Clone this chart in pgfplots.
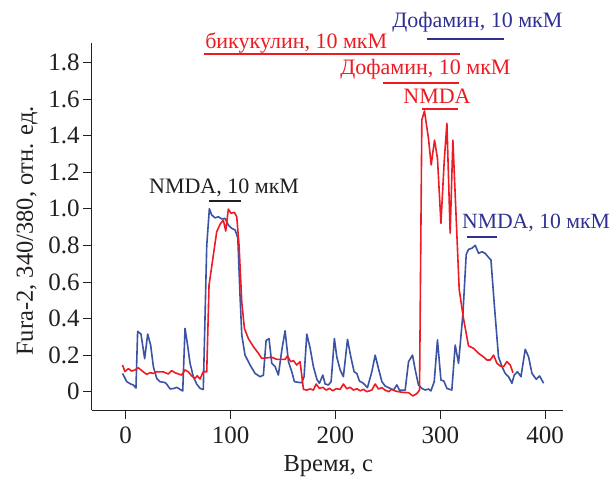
\documentclass[border=0pt]{standalone}
\usepackage{fontspec}
\setmainfont{Liberation Serif}
\usepackage{pgfplots}
\pgfplotsset{compat=1.18}
\definecolor{cblue}{RGB}{58,83,164}
\definecolor{ctblue}{RGB}{46,49,146}
\definecolor{cred}{RGB}{237,28,36}
\definecolor{caxis}{RGB}{35,31,32}
\begin{document}
\begin{tikzpicture}
\begin{axis}[
  at={(0,0)}, anchor=south west,
  scale only axis, width=471.3pt, height=366.7pt,
  xmin=-32.4, xmax=417, ymin=-0.1, ymax=1.904,
  axis lines=left,
  axis line style={-, line width=0.8pt, color=caxis},
  every tick/.style={line width=0.8pt, color=caxis},
  tick align=outside, major tick length=8.5pt,
  xtick={0,100,200,300,400}, xticklabels={0,100,200,300,400},
  ytick={0,0.2,0.4,0.6,0.8,1.0,1.2,1.4,1.6,1.8},
  yticklabels={0,0.2,0.4,0.6,0.8,1.0,1.2,1.4,1.6,1.8},
  tick label style={font=\fontsize{25}{29}\selectfont, color=caxis},
  xticklabel style={yshift=-5pt},
  xlabel={Время, с}, ylabel={Fura-2, 340/380, отн. ед.},
  label style={font=\fontsize{24.5}{28}\selectfont, color=caxis},
  xlabel style={at={(axis description cs:0.502,-0.168)}, anchor=base},
  ylabel style={at={(axis description cs:-0.125,0.488)}, anchor=base, rotate=0},
  clip=false,
]
\addplot[cblue, line width=1.6pt, line join=round] coordinates {
(-3,0.10) (1,0.055) (4.8,0.042) (7.3,0.037) (9.8,0.02) (11.4,0.33) (14.6,0.315) (18.1,0.18) (21,0.315) (23.8,0.255) (26.4,0.137) (29.6,0.073) (32.7,0.055) (37.5,0.05) (39.7,0.037) (42.3,0.015) (46.1,0.018) (48.7,0.024) (51.8,0.013) (54.4,0.004) (56.6,0.346) (58.8,0.264) (61.4,0.155) (64.5,0.082) (67.7,0.042) (70.9,0.018) (74,0.012) (77.3,0.80) (79.8,1.00) (82,0.966) (85.2,0.95) (88.4,0.956) (91.6,0.944) (94.8,0.947) (97.9,0.91) (101.1,0.893) (104.3,0.884) (106.9,0.84) (109,0.53) (110.7,0.31) (113.8,0.20) (118.6,0.146) (123.4,0.10) (128.1,0.082) (131.3,0.09) (133.9,0.28) (136.7,0.29) (139.3,0.155) (142.5,0.137) (145.6,0.091) (148.9,0.228) (152,0.333) (155.2,0.164) (158.4,0.109) (160.9,0.055) (164.7,0.051) (167.9,0.049) (170.1,0.082) (172.7,0.315) (175.9,0.237) (179,0.137) (182.3,0.068) (184.7,0.046) (188,0.091) (190.2,0.042) (193.3,0.037) (195.9,0.055) (199,0.29) (201.3,0.19) (204.5,0.119) (207.6,0.082) (211.5,0.286) (214.7,0.19) (217.8,0.109) (220.4,0.10) (222.9,0.058) (226.7,0.046) (230.5,0.022) (234.7,0.109) (237.9,0.20) (241,0.128) (244.3,0.055) (247.4,0.031) (252.2,0.018) (255.3,0.009) (258.6,0.037) (261,0.009) (266.5,0.009) (269.7,0.164) (273.5,0.20) (276,0.122) (279.2,0.037) (282.4,0.018) (285.6,0.009) (288.7,0.015) (291,0.004) (294.2,0.055) (297.3,0.283) (300.6,0.064) (303.4,0.058) (306.3,0.018) (311,0.009) (314.2,0.255) (317.4,0.155) (321.6,0.428) (324.7,0.75) (326.9,0.778) (330.2,0.784) (333.3,0.80) (336.5,0.756) (339.7,0.765) (342.8,0.756) (346,0.734) (348.3,0.72) (351.4,0.483) (355.5,0.19) (358.8,0.137) (361.9,0.10) (365.1,0.082) (368.3,0.046) (370.5,0.091) (373.7,0.109) (376.9,0.082) (381,0.232) (384.2,0.19) (387.4,0.10) (391.5,0.068) (394.7,0.086) (398.5,0.046)
};
\addplot[cred, line width=1.6pt, line join=round] coordinates {
(-3,0.146) (-0.7,0.11) (2.5,0.126) (5.7,0.113) (8.9,0.119) (12,0.131) (15.3,0.115) (20,0.095) (23.2,0.104) (26.3,0.10) (29.6,0.109) (35.9,0.108) (40.6,0.097) (43.9,0.115) (47,0.104) (50.2,0.097) (53.4,0.091) (56.6,0.119) (59.7,0.109) (63,0.086) (66.1,0.073) (68.3,0.087) (70.9,0.069) (74,0.109) (77.3,0.109) (79.5,0.583) (83.6,0.747) (86.8,0.874) (90,0.915) (93.1,0.938) (95.4,0.878) (97.9,0.998) (100.5,0.975) (103.6,0.98) (105.9,0.956) (108.1,0.80) (110.7,0.49) (113.2,0.346) (117,0.29) (121.8,0.246) (126.5,0.21) (129.8,0.182) (134.5,0.185) (139.3,0.188) (144.1,0.177) (148.9,0.177) (152,0.177) (154.2,0.195) (157.4,0.164) (159.9,0.17) (163.2,0.146) (166.3,0.164) (169.5,0.013) (172.7,0.009) (175.9,0.015) (179,0.009) (181.6,0.042) (184.7,0.018) (188,0.024) (191.1,0.009) (194.3,0.018) (197.5,0.005) (200.7,0.016) (204.5,0.013) (207.6,0.042) (210.9,0.016) (214,0.024) (217.2,0.009) (220.4,0.016) (223.6,0.005) (226.7,0.013) (230,0.0) (234.7,0.009) (237.9,0.042) (241,0.015) (244.3,0.022) (247.4,0.009) (250.6,0.0) (253.8,0.013) (257,0.004) (260.1,0.0) (264.9,-0.004) (269.7,-0.005) (273.9,-0.023) (277.7,-0.01) (280.2,0.009) (282.4,1.485) (284.9,1.534) (288.7,1.385) (291.3,1.239) (294.5,1.375) (297.3,1.275) (300.6,0.92) (303.7,1.257) (306.3,1.467) (309.4,0.866) (312,1.375) (318,0.56) (322.1,0.40) (326.9,0.25) (331.7,0.237) (336.5,0.21) (341.2,0.19) (344.5,0.173) (347.6,0.173) (350.8,0.20) (354,0.155) (357.2,0.14) (360.3,0.137) (363.5,0.164) (366.7,0.146) (369.3,0.104)
};
% annotations
\draw[ctblue, line width=1.8pt] (axis cs:287.2,1.927) -- (axis cs:361,1.927);
\node[ctblue, anchor=west, inner sep=0pt, font=\fontsize{22}{26}\selectfont] at (axis cs:254,2.02) {Дофамин, 10 мкМ};
\draw[cred, line width=1.8pt] (axis cs:74.7,1.844) -- (axis cs:319,1.844);
\node[cred, anchor=west, inner sep=0pt, font=\fontsize{22}{26}\selectfont] at (axis cs:75.7,1.905) {бикукулин, 10 мкМ};
\draw[cred, line width=1.8pt] (axis cs:245,1.685) -- (axis cs:317.4,1.685);
\node[cred, anchor=west, inner sep=0pt, font=\fontsize{22}{26}\selectfont] at (axis cs:204.5,1.763) {Дофамин, 10 мкМ};
\draw[cred, line width=1.8pt] (axis cs:282.4,1.545) -- (axis cs:316.4,1.545);
\node[cred, anchor=west, inner sep=0pt, font=\fontsize{22}{26}\selectfont] at (axis cs:264.6,1.612) {NMDA};
\draw[caxis, line width=1.8pt] (axis cs:79.8,1.042) -- (axis cs:109.7,1.042);
\node[caxis, anchor=west, inner sep=0pt, font=\fontsize{22}{26}\selectfont] at (axis cs:22.2,1.113) {NMDA, 10 мкМ};
\draw[ctblue, line width=1.8pt] (axis cs:325.4,0.844) -- (axis cs:354,0.844);
\node[ctblue, anchor=west, inner sep=0pt, font=\fontsize{21.7}{26}\selectfont] at (axis cs:320.6,0.92) {NMDA, 10 мкМ};
\end{axis}
\pgfresetboundingbox
\path[use as bounding box] (-91.7pt,-69pt) rectangle (518.3pt,410pt);
\end{tikzpicture}
\end{document}
